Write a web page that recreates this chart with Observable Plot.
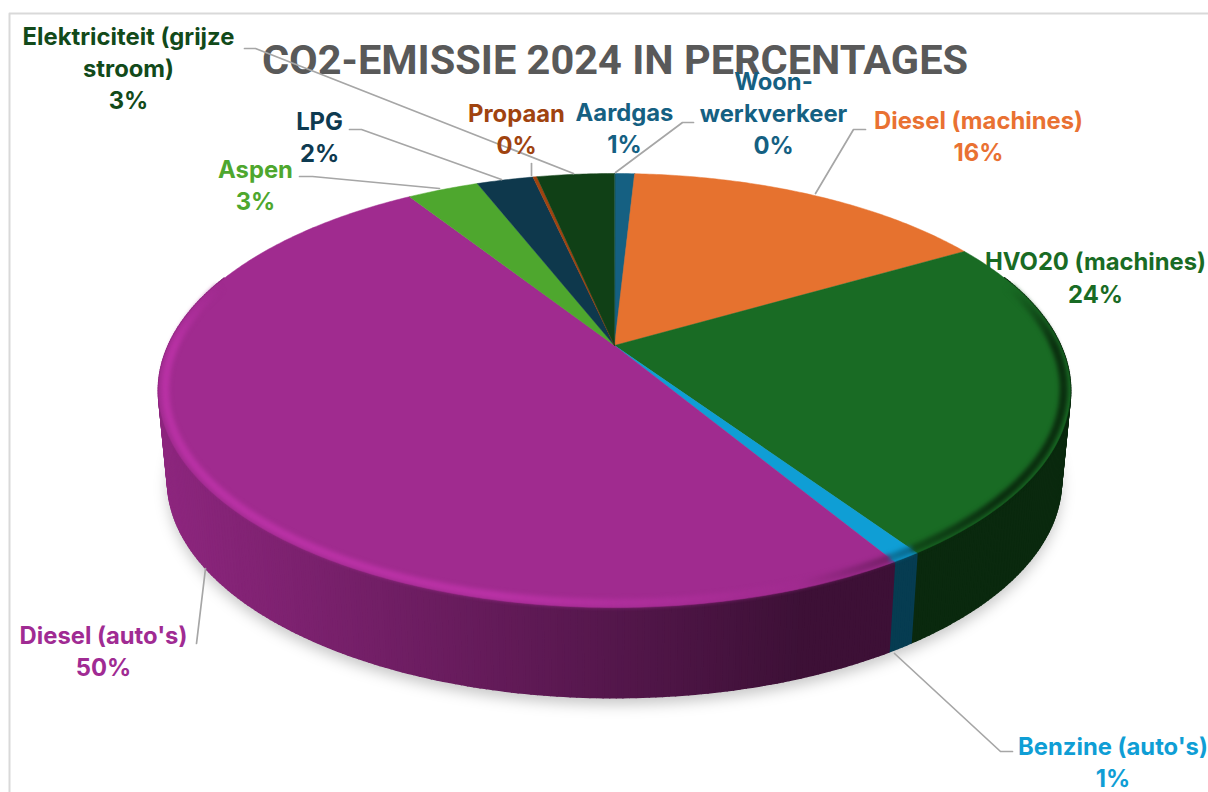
<!DOCTYPE html>
<html><head><meta charset="utf-8">
<script src="https://cdn.jsdelivr.net/npm/d3@7"></script>
<script src="https://cdn.jsdelivr.net/npm/@observablehq/plot@0.6"></script>
<style>html,body{margin:0;padding:0;background:#fff;overflow:hidden}svg{display:block}</style>
</head><body><div id="chart"></div>
<script>
const titleText = "CO2-EMISSIE 2024 IN PERCENTAGES";
const categories = ["Aardgas","Woon-werkverkeer","Diesel (machines)","HVO20 (machines)","Benzine (auto's)","Diesel (auto's)","Aspen","LPG","Propaan","Elektriciteit (grijze stroom)"];
const values = [0.86,0.01,15.8,23.85,0.86,49.56,3.1,2.45,0.17,3.36];
const labelLines = [["Aardgas"],["Woon-","werkverkeer"],["Diesel (machines)"],["HVO20 (machines)"],["Benzine (auto's)"],["Diesel (auto's)"],["Aspen"],["LPG"],["Propaan"],["Elektriciteit (grijze","stroom)"]];
const sliceColors = ["#156082","#156082","#e6722f","#196b24","#0f9ed5","#a02b8f","#4ea72e","#0e384c","#a0430f","#104016"];
const textColors  = ["#156082","#156082","#e97132","#196b24","#0f9ed5","#a02b93","#4ea72e","#0e3a50","#a0430f","#124a1a"];

// layout (not data)
const labelX = [624,773,978,1095,1112.5,103,255,319,516,128];
const labelY = [112.5,81.5,120.5,262,746.5,635.5,169.5,121.5,113.5,36.5];
const lineGap = 32.4;
const leaders = [
  [],
  [[693,122],[682,122],[615,172]],
  [[865,129],[853,129],[815,193]],
  [],
  [[1012,751],[1000,751],[894,653]],
  [[196,643],[205,568]],
  [[299,176],[312,176],[439,188]],
  [[349,129],[361,129],[501,179]],
  [[531,163],[531,175]],
  [[244,48],[255,48],[573,173]]
];
const C = {cx:614, a:446, cy:345, e:-136.1, k:0.2074, depth:90, shrink:0.98};

function rim(angle, low=false, r=1){
  const u = Math.sin(angle)*r, v = Math.cos(angle)*r;
  const w = 1 + C.k*v;
  const sx = C.a*u/w, sy = (C.cy + C.e*v)/w;
  return low ? [C.cx + sx*C.shrink, sy + C.depth] : [C.cx + sx, sy];
}
const total = d3.sum(values);
let acc = 0;
const slices = values.map((v,i)=>{const s=acc/total*2*Math.PI; acc+=v; return {i,s,e:acc/total*2*Math.PI};});
const shade = (col,m)=>{const c=d3.rgb(col); return d3.rgb(Math.min(255,c.r*m),Math.min(255,c.g*m),Math.min(255,c.b*m)).formatHex();};
const clamp01 = t=>Math.max(0,Math.min(1,t));

// top surface polygons
const topFace = [];
slices.forEach(sl=>{
  const n = Math.max(2,Math.ceil((sl.e-sl.s)/0.01));
  topFace.push({id:sl.i,x:C.cx,y:C.cy,fill:sliceColors[sl.i]});
  for(let j=0;j<=n;j++){const [x,y]=rim(sl.s+(sl.e-sl.s)*j/n); topFace.push({id:sl.i,x,y,fill:sliceColors[sl.i]});}
});

// wall quads + rim bevel
const wall = [], bevel = [], shadow = [];
const wallMult = x=>0.88-0.50*clamp01((x-160)/(800-160));
slices.forEach(sl=>{
  const n = Math.max(1,Math.ceil((sl.e-sl.s)/0.012));
  for(let j=0;j<n;j++){
    const a0=sl.s+(sl.e-sl.s)*j/n, a1=sl.s+(sl.e-sl.s)*(j+1)/n;
    const id=sl.i+"-"+j;
    const vm=Math.cos((a0+a1)/2);
    if(vm>0.35) continue;
    const p0=rim(a0),p1=rim(a1),q1=rim(a1,true),q0=rim(a0,true);
    const fill=shade(sliceColors[sl.i],wallMult((p0[0]+p1[0])/2));
    [p0,p1,q1,q0].forEach(([x,y])=>wall.push({id,x,y,fill}));
    if(vm>0.3) continue;
    const b0=rim(a0,false,0.986),b1=rim(a1,false,0.986);
    const xm=(b0[0]+b1[0])/2;
    let m = xm<500?1.16:xm<800?1.16-0.16*(xm-500)/300:xm<1000?1-0.6*(xm-800)/200:0.4;
    m = 1+(m-1)*clamp01((0.3-vm)/0.3);
    const stroke=shade(sliceColors[sl.i],m);
    bevel.push({id,x:b0[0],y:b0[1],stroke},{id,x:b1[0],y:b1[1],stroke});
  }
});
for(let j=0;j<=240;j++){const [x,y]=rim(j/240*2*Math.PI,true); shadow.push({x:x,y:y+7});}

// labels
const labelRows = [];
labelLines.forEach((lines,i)=>{
  [...lines,`${Math.round(values[i])}%`].forEach((text,j)=>{
    labelRows.push({text,x:labelX[i],y:labelY[i]+j*lineGap,fill:textColors[i]});
  });
});
const leaderRows = leaders.flatMap((pts,i)=>pts.map(([x,y])=>({id:i,x,y})));
const border = [{x:9,y:792},{x:9,y:13},{x:1208,y:13}];

const chart = Plot.plot({
  width:1208,height:792,margin:0,
  style:{background:"#fff"},
  x:{domain:[0,1208],range:[0,1208],axis:null},
  y:{domain:[0,792],range:[0,792],axis:null},
  color:{type:"identity"},
  marks:[
    Plot.line(border,{x:"x",y:"y",stroke:"#d9d9d9",strokeWidth:2}),
    Plot.line(shadow,{x:"x",y:"y",fill:"#000",fillOpacity:0.22,stroke:"none",curve:"linear-closed",imageFilter:"blur(7px)"}),
    Plot.line(wall,{x:"x",y:"y",z:"id",fill:"fill",stroke:"fill",strokeWidth:2,curve:"linear-closed"}),
    Plot.line(topFace,{x:"x",y:"y",z:"id",fill:"fill",stroke:"fill",strokeWidth:0.5,curve:"linear-closed"}),
    Plot.line(bevel,{x:"x",y:"y",z:"id",stroke:"stroke",strokeWidth:8,strokeLinecap:"butt",imageFilter:"blur(2px)"}),
    Plot.text([{x:614.5,y:60,t:titleText}],{x:"x",y:"y",text:"t",fill:"#595959",fontSize:41.5,fontWeight:700,fontFamily:"Roboto",lineAnchor:"middle"}),
    Plot.line(leaderRows,{x:"x",y:"y",z:"id",stroke:"#a6a6a6",strokeWidth:1.7}),
    Plot.text(labelRows,{x:"x",y:"y",text:"text",fill:"fill",fontSize:23.8,fontWeight:650,fontFamily:"Inter",lineAnchor:"middle"})
  ]
});
document.getElementById("chart").append(chart);
</script></body></html>
